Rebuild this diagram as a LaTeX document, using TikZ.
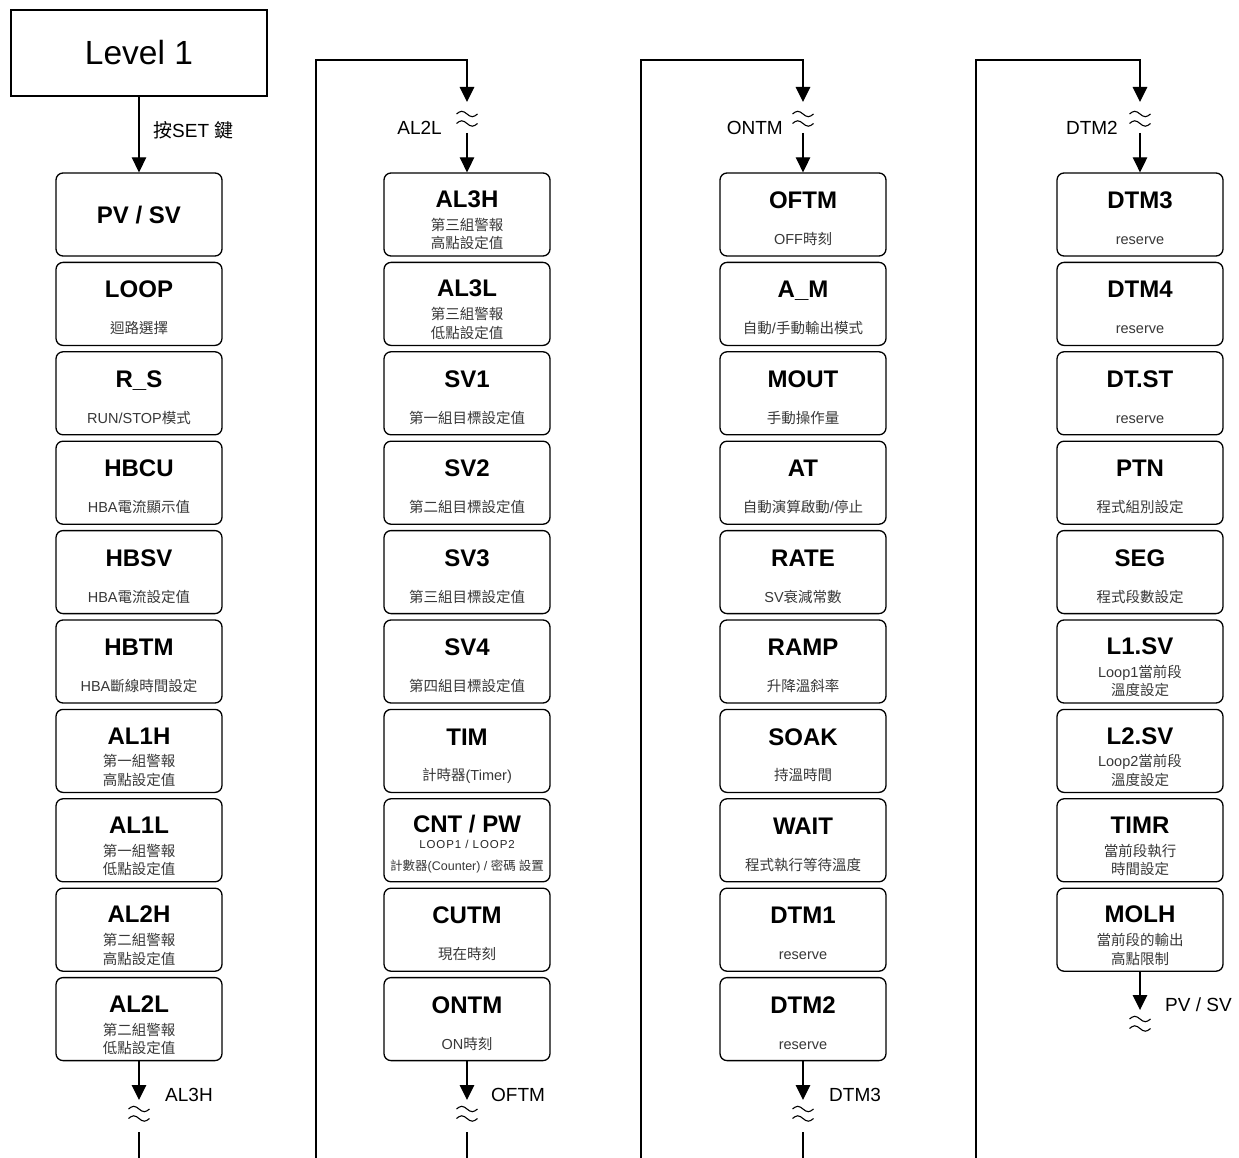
\documentclass[tikz,border=0pt]{standalone}
\usepackage{fontspec}
\setmainfont{Liberation Sans}
\newfontfamily\cjk{Noto Sans CJK TC}
\usetikzlibrary{arrows.meta}
\newcommand\zh[1]{{\cjk #1}}
\tikzset{
 box/.style={draw, line width=1.3pt, rounded corners=7pt, minimum width=166pt, minimum height=83pt, inner sep=0pt},
 ttl/.style={anchor=base, inner sep=0pt, font=\fontsize{24}{28}\selectfont\bfseries},
 sub/.style={anchor=base, inner sep=0pt, text=black!78, font=\fontsize{14.5}{17}\selectfont},
 lbl/.style={inner sep=0pt, font=\fontsize{19}{22}\selectfont},
 arr/.style={line width=1.3pt, -{Triangle[width=14.5pt,length=15pt]}},
 ln/.style={line width=1.3pt},
 wave/.style={line width=1.1pt},
}
\newcommand\boxS[4]{%
 \node[box] (#1) at (#2,#3+41.5) {};
 \node[ttl] (#1t) at (#2,#3+50.1) {#4};}
\newcommand\boxA[5]{%
 \node[box] (#1) at (#2,#3+41.5) {};
 \node[ttl] (#1t) at (#2,#3+35.6) {#4};
 \node[sub] (#1s) at (#2,#3+71.4) {#5};}
\newcommand\boxB[6]{%
 \node[box] (#1) at (#2,#3+41.5) {};
 \node[ttl] (#1t) at (#2,#3+34.6) {#4};
 \node[sub] (#1s) at (#2,#3+57.4) {#5};
 \node[sub] (#1u) at (#2,#3+75.9) {#6};}
\newcommand\brk[2]{%
 \draw[wave] (#1-10.5,#2) sin (#1-5.25,#2-2.7) cos (#1,#2) sin (#1+5.25,#2+2.7) cos (#1+10.5,#2);
 \draw[wave] (#1-10.5,#2+9.5) sin (#1-5.25,#2+6.8) cos (#1,#2+9.5) sin (#1+5.25,#2+12.2) cos (#1+10.5,#2+9.5);}
\begin{document}
\begin{tikzpicture}[x=1pt,y=-1pt]
\fill[white] (0,0) rectangle (1239,1158);
\useasboundingbox (0,0) rectangle (1239,1158);

% Level 1
\node[draw, ln, minimum width=256pt, minimum height=86pt, inner sep=0pt, font=\fontsize{33.5}{40}\selectfont] (lvl) at (139,53) {Level 1};

% Column 1
\boxS{a0}{139}{173}{PV / SV}
\boxA{a1}{139}{262.4}{LOOP}{\zh{迴路選擇}}
\boxA{a2}{139}{351.8}{R\_S}{RUN/STOP\zh{模式}}
\boxA{a3}{139}{441.2}{HBCU}{HBA\zh{電流顯示值}}
\boxA{a4}{139}{530.6}{HBSV}{HBA\zh{電流設定值}}
\boxA{a5}{139}{620}{HBTM}{HBA\zh{斷線時間設定}}
\boxB{a6}{139}{709.4}{AL1H}{\zh{第一組警報}}{\zh{高點設定值}}
\boxB{a7}{139}{798.8}{AL1L}{\zh{第一組警報}}{\zh{低點設定值}}
\boxB{a8}{139}{888.2}{AL2H}{\zh{第二組警報}}{\zh{高點設定值}}
\boxB{a9}{139}{977.6}{AL2L}{\zh{第二組警報}}{\zh{低點設定值}}

% Column 2
\boxB{b0}{467}{173}{AL3H}{\zh{第三組警報}}{\zh{高點設定值}}
\boxB{b1}{467}{262.4}{AL3L}{\zh{第三組警報}}{\zh{低點設定值}}
\boxA{b2}{467}{351.8}{SV1}{\zh{第一組目標設定值}}
\boxA{b3}{467}{441.2}{SV2}{\zh{第二組目標設定值}}
\boxA{b4}{467}{530.6}{SV3}{\zh{第三組目標設定值}}
\boxA{b5}{467}{620}{SV4}{\zh{第四組目標設定值}}
\boxA{b6}{467}{709.4}{TIM}{\zh{計時器}(Timer)}
\node[box] (b7) at (467,798.8+41.5) {};
\node[ttl] (b7t) at (467,798.8+33.6) {CNT / PW};
\node[sub, text=black!85, font=\fontsize{11.5}{13}\selectfont\addfontfeatures{LetterSpace=8}] (b7s) at (467,798.8+50) {LOOP1 / LOOP2};
\node[sub, font=\fontsize{12.5}{15}\selectfont] (b7u) at (467,798.8+71.5) {\zh{計數器}(Counter) / \zh{密碼 設置}};
\boxA{b8}{467}{888.2}{CUTM}{\zh{現在時刻}}
\boxA{b9}{467}{977.6}{ONTM}{ON\zh{時刻}}

% Column 3
\boxA{c0}{803}{173}{OFTM}{OFF\zh{時刻}}
\boxA{c1}{803}{262.4}{A\_M}{\zh{自動}/\zh{手動輸出模式}}
\boxA{c2}{803}{351.8}{MOUT}{\zh{手動操作量}}
\boxA{c3}{803}{441.2}{AT}{\zh{自動演算啟動}/\zh{停止}}
\boxA{c4}{803}{530.6}{RATE}{SV\zh{衰減常數}}
\boxA{c5}{803}{620}{RAMP}{\zh{升降溫斜率}}
\boxA{c6}{803}{709.4}{SOAK}{\zh{持溫時間}}
\boxA{c7}{803}{798.8}{WAIT}{\zh{程式執行等待溫度}}
\boxA{c8}{803}{888.2}{DTM1}{reserve}
\boxA{c9}{803}{977.6}{DTM2}{reserve}

% Column 4
\boxA{d0}{1140}{173}{DTM3}{reserve}
\boxA{d1}{1140}{262.4}{DTM4}{reserve}
\boxA{d2}{1140}{351.8}{DT.ST}{reserve}
\boxA{d3}{1140}{441.2}{PTN}{\zh{程式組別設定}}
\boxA{d4}{1140}{530.6}{SEG}{\zh{程式段數設定}}
\boxB{d5}{1140}{620}{L1.SV}{Loop1\zh{當前段}}{\zh{溫度設定}}
\boxB{d6}{1140}{709.4}{L2.SV}{Loop2\zh{當前段}}{\zh{溫度設定}}
\boxB{d7}{1140}{798.8}{TIMR}{\zh{當前段執行}}{\zh{時間設定}}
\boxB{d8}{1140}{888.2}{MOLH}{\zh{當前段的輸出}}{\zh{高點限制}}

% Level 1 -> PV/SV
\draw[arr] (lvl.south) -- (a0.north);
\node[lbl, anchor=base west] (setlbl) at (153,138) {\zh{按}SET \zh{鍵}};

% Column 1 bottom
\coordinate (a9tip) at (139,1100);
\draw[arr] (a9.south) -- (a9tip);
\brk{139}{1109}
\coordinate (a9res) at (139,1132);
\coordinate (a9end) at (139,1158);
\draw[ln] (a9res) -- (a9end);
\node[lbl, anchor=base west] (a9lbl) at (165,1101.8) {AL3H};

% Column 2 top
\coordinate (b0in) at (316,1158);
\coordinate (b0top) at (467,60);
\coordinate (b0tip) at (467,102);
\draw[arr] (b0in) |- (b0top) -- (b0tip);
\brk{467}{114}
\coordinate (b0res) at (467,133);
\draw[arr] (b0res) -- (b0.north);
\node[lbl, anchor=base east] (b0lbl) at (442,134.8) {AL2L};

% Column 2 bottom
\coordinate (b9tip) at (467,1100);
\draw[arr] (b9.south) -- (b9tip);
\brk{467}{1109}
\coordinate (b9res) at (467,1132);
\coordinate (b9end) at (467,1158);
\draw[ln] (b9res) -- (b9end);
\node[lbl, anchor=base west] (b9lbl) at (491,1101.8) {OFTM};

% Column 3 top
\coordinate (c0in) at (641,1158);
\coordinate (c0top) at (803,60);
\coordinate (c0tip) at (803,102);
\draw[arr] (c0in) |- (c0top) -- (c0tip);
\brk{803}{114}
\coordinate (c0res) at (803,133);
\draw[arr] (c0res) -- (c0.north);
\node[lbl, anchor=base east] (c0lbl) at (783,134.8) {ONTM};

% Column 3 bottom
\coordinate (c9tip) at (803,1100);
\draw[arr] (c9.south) -- (c9tip);
\brk{803}{1109}
\coordinate (c9res) at (803,1132);
\coordinate (c9end) at (803,1158);
\draw[ln] (c9res) -- (c9end);
\node[lbl, anchor=base west] (c9lbl) at (829,1101.8) {DTM3};

% Column 4 top
\coordinate (d0in) at (976,1158);
\coordinate (d0top) at (1140,60);
\coordinate (d0tip) at (1140,102);
\draw[arr] (d0in) |- (d0top) -- (d0tip);
\brk{1140}{114}
\coordinate (d0res) at (1140,133);
\draw[arr] (d0res) -- (d0.north);
\node[lbl, anchor=base east] (d0lbl) at (1118,134.8) {DTM2};

% Column 4 bottom
\coordinate (d8tip) at (1140,1010);
\draw[arr] (d8.south) -- (d8tip);
\brk{1140}{1019}
\node[lbl, anchor=base west] (d8lbl) at (1165,1011.8) {PV / SV};
\end{tikzpicture}
\end{document}
